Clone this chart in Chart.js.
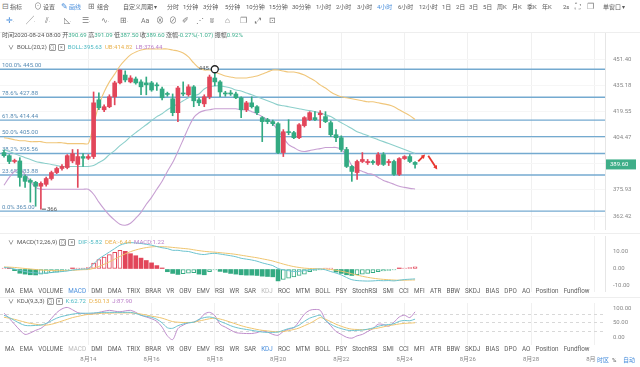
<!DOCTYPE html>
<html>
<head>
<meta charset="utf-8">
<script src="https://cdn.jsdelivr.net/npm/chart.js@4.4.1/dist/chart.umd.min.js"></script>
<style>
body{margin:0;width:640px;height:367px;overflow:hidden;background:#fff;position:relative;
  font-family:Roboto,"Noto Sans CJK SC",sans-serif;color:#5a5a5a}
canvas{position:absolute;left:0}
.a{position:absolute;white-space:nowrap;font-size:6px;line-height:8px}
.ic{font-size:8px;color:#777}
.bl{color:#4a8fdc}
.g{color:#3fb08f}
.teal{color:#4fbac4}.yel{color:#e9b24f}.pur{color:#bb7fc9}
.ib{display:inline-block;width:5px;height:5px;border:1px solid #9a9a9a;border-radius:1px;font-size:5px;line-height:5px;text-align:center;vertical-align:middle;margin-left:2px;color:#777}
.menu{position:absolute;left:5px;display:flex;gap:5.2px;font-size:6.3px;line-height:8px;color:#5e5e5e;white-space:nowrap}
.hl{position:absolute;left:0;width:640px;height:1px;background:#eeeeee}
</style>
</head>
<body>
<canvas id="cMain" width="640" height="197" style="top:33px"></canvas>
<canvas id="cMacd" width="640" height="56" style="top:236px"></canvas>
<canvas id="cKdj" width="640" height="64" style="top:303px"></canvas>

<div class="hl" style="top:32px"></div>
<div class="hl" style="top:233px"></div>
<div class="hl" style="top:297px"></div>

<!-- toolbar row 1 -->
<div class="a ic" style="top:3px;left:2px">⊟</div><div class="a" style="top:3px;left:10px">指标</div>
<div class="a ic" style="top:3px;left:34px">⊙</div><div class="a" style="top:3px;left:43px">设置</div>
<div class="a ic bl" style="top:3px;left:61px">✎</div><div class="a bl" style="top:3px;left:69px">画线</div>
<div class="a ic" style="top:3px;left:88px">⊞</div><div class="a" style="top:3px;left:97px">组合</div>
<div class="a" style="top:3px;left:123px">自定义周期 ▾</div>
<div class="a" style="top:3px;left:167px">分时</div>
<div class="a" style="top:3px;left:183px">1分钟</div>
<div class="a" style="top:3px;left:203px">3分钟</div>
<div class="a" style="top:3px;left:225px">5分钟</div>
<div class="a" style="top:3px;left:246px">10分钟</div>
<div class="a" style="top:3px;left:269px">15分钟</div>
<div class="a" style="top:3px;left:292px">30分钟</div>
<div class="a" style="top:3px;left:316px">1小时</div>
<div class="a" style="top:3px;left:336px">2小时</div>
<div class="a" style="top:3px;left:357px">3小时</div>
<div class="a bl" style="top:3px;left:377px">4小时</div>
<div class="a" style="top:3px;left:398px">6小时</div>
<div class="a" style="top:3px;left:419px">12小时</div>
<div class="a" style="top:3px;left:442px">1日</div>
<div class="a" style="top:3px;left:456px">2日</div>
<div class="a" style="top:3px;left:469px">3日</div>
<div class="a" style="top:3px;left:483px">5日</div>
<div class="a" style="top:3px;left:497px">周K</div>
<div class="a" style="top:3px;left:512px">月K</div>
<div class="a" style="top:3px;left:527px">季K</div>
<div class="a" style="top:3px;left:542px">年K</div>
<div class="a" style="top:3px;left:563px">2s</div>
<div class="a ic" style="top:3px;left:575px">⛶</div>
<div class="a ic" style="top:3px;left:587px">❐</div>
<div class="a" style="top:3px;left:603px">单窗口 ▾</div>

<!-- toolbar row 2 -->
<div class="a ic bl" style="top:17px;left:6px">✛<span style="font-size:5px;color:#999">·</span></div>
<div class="a ic" style="top:17px;left:26px">╱<span style="font-size:5px">·</span></div>
<div class="a ic" style="top:17px;left:45px">⫽<span style="font-size:5px">·</span></div>
<div class="a ic" style="top:17px;left:64px">◺<span style="font-size:5px">·</span></div>
<div class="a ic" style="top:17px;left:82px">☰<span style="font-size:5px">·</span></div>
<div class="a ic" style="top:17px;left:101px">∿<span style="font-size:5px">·</span></div>
<div class="a ic" style="top:17px;left:120px">⊞<span style="font-size:5px">·</span></div>
<div class="a ic" style="top:17px;left:141px;font-size:7px">Aa</div>
<div class="a ic" style="top:17px;left:156px">⊗</div>
<div class="a ic" style="top:17px;left:169px">⊘</div>
<div class="a ic" style="top:17px;left:182px">✐</div>
<div class="a ic" style="top:17px;left:196px">⋰</div>
<div class="a ic" style="top:17px;left:210px">ʬ</div>
<div class="a ic" style="top:17px;left:225px">⌂</div>
<div class="a ic" style="top:17px;left:240px">❐</div>
<div class="a ic" style="top:17px;left:255px">⤢</div>
<div class="a ic" style="top:17px;left:269px">⊡</div>

<!-- info rows -->
<div class="a" style="top:31px;left:2px;color:#555">时间2020-08-24 08:00 开<span class="g">390.69</span> 高<span class="g">391.09</span> 低<span class="g">387.50</span> 收<span class="g">389.60</span> 涨幅<span class="g">-0.27%(-1.07)</span> 振幅<span class="g">0.92%</span></div>
<div class="a" style="top:43px;left:8px;color:#555">∨&nbsp; BOLL(20,2)<span class="ib">⊙</span><span class="ib">×</span>&nbsp; <span class="teal">BOLL:395.63</span>&nbsp; <span class="yel">UB:414.82</span>&nbsp; <span class="pur">LB:376.44</span></div>

<div class="a" style="top:238px;left:8px;color:#555">∨&nbsp; MACD(12,26,9)<span class="ib">⊙</span><span class="ib">×</span>&nbsp; <span class="teal">DIF:-5.82</span>&nbsp; <span class="yel">DEA:-6.44</span>&nbsp; <span class="pur">MACD:1.22</span></div>

<div class="menu" style="top:287px">
<span>MA</span><span>EMA</span><span>VOLUME</span><span class="bl">MACD</span><span>DMI</span><span>DMA</span><span>TRIX</span><span>BRAR</span><span>VR</span><span>OBV</span><span>EMV</span><span>RSI</span><span>WR</span><span>SAR</span><span style="color:#bbb">KDJ</span><span>ROC</span><span>MTM</span><span>BOLL</span><span>PSY</span><span>StochRSI</span><span>SMI</span><span>CCI</span><span>MFI</span><span>ATR</span><span>BBW</span><span>SKDJ</span><span>BIAS</span><span>DPO</span><span>AO</span><span>Position</span><span>Fundflow</span>
</div>

<div class="a" style="top:297px;left:8px;color:#555">∨&nbsp; KDJ(9,3,3)<span class="ib">⊙</span><span class="ib">×</span>&nbsp; <span class="teal">K:62.72</span>&nbsp; <span class="yel">D:50.13</span>&nbsp; <span class="pur">J:87.90</span></div>

<div class="menu" style="top:345px">
<span>MA</span><span>EMA</span><span>VOLUME</span><span style="color:#bbb">MACD</span><span>DMI</span><span>DMA</span><span>TRIX</span><span>BRAR</span><span>VR</span><span>OBV</span><span>EMV</span><span>RSI</span><span>WR</span><span>SAR</span><span class="bl">KDJ</span><span>ROC</span><span>MTM</span><span>BOLL</span><span>PSY</span><span>StochRSI</span><span>SMI</span><span>CCI</span><span>MFI</span><span>ATR</span><span>BBW</span><span>SKDJ</span><span>BIAS</span><span>DPO</span><span>AO</span><span>Position</span><span>Fundflow</span>
</div>

<div class="a bl" style="top:356px;left:596px;background:#fff;padding-left:1px">时区</div>
<div class="a" style="top:356px;left:612px">%</div>
<div class="a bl" style="top:356px;left:623px">自动</div>

<script>
// ETH 4h candles, 2020-08-11 08:00 .. 2020-08-24 08:00
const open  = [396.1,394.4,391.2,391.5,383.1,381.0,380.0,377.9,378.9,382.0,385.2,387.4,387.9,391.5,389.6,393.9,393.0,393.9,426.4,420.5,
               422.3,428.2,436.6,441.4,437.2,439.0,437.2,436.6,436.6,435.4,432.9,430.0,427.0,418.8,430.5,429.4,434.2,426.4,424.0,428.2,
               439.6,437.2,430.5,430.5,429.9,427.6,420.5,424.6,422.3,415.9,414.7,413.6,412.4,396.1,407.8,407.3,404.4,411.3,414.7,415.9,
               417.6,416.5,413.0,406.1,404.4,397.8,388.5,385.2,391.2,390.6,391.2,389.6,395.0,390.6,391.2,384.2,392.8,393.9,390.69];
const high  = [397.5,395.0,392.5,393.3,384.0,381.8,380.5,380.2,382.8,386.0,388.2,389.5,395.0,397.8,397.8,395.5,395.0,431.1,430.5,423.4,
               429.4,437.6,444.6,444.0,441.0,440.2,438.4,440.2,437.5,436.6,434.0,431.0,429.9,434.5,437.2,435.5,435.0,427.6,429.4,441.4,
               445.0,438.0,431.5,432.0,431.0,428.2,425.5,428.2,423.0,416.5,415.5,414.5,413.0,409.0,414.7,408.0,412.4,416.5,419.4,419.4,
               420.0,419.4,414.0,409.0,405.5,399.0,389.0,392.0,396.1,392.3,392.0,396.1,396.1,392.3,392.0,393.3,394.4,395.0,391.09];
const low   = [393.5,390.0,390.4,377.9,377.3,369.6,367.5,366.0,378.0,381.2,384.6,386.5,387.2,390.5,377.3,388.5,392.3,392.8,420.5,419.4,
               421.7,423.4,436.0,437.2,436.6,435.8,429.4,429.4,431.5,432.0,426.4,428.5,417.0,413.6,428.8,428.5,422.3,422.9,422.3,427.0,
               434.8,428.2,428.5,429.0,427.0,415.9,419.4,421.5,417.6,402.2,412.4,411.3,395.5,393.9,406.1,403.8,403.8,410.5,414.2,414.2,
               410.1,413.0,405.0,402.2,396.7,387.9,380.5,381.5,390.6,389.6,389.6,389.0,389.0,389.0,383.6,383.6,392.3,390.6,387.50];
const close = [394.4,391.2,391.5,382.6,380.5,380.0,377.9,379.4,382.0,385.2,387.4,388.5,394.4,395.5,393.9,393.0,393.9,424.6,421.7,422.3,
               428.2,436.6,444.5,438.4,439.6,436.6,434.2,435.4,432.3,434.8,427.6,429.6,418.8,433.5,429.9,434.2,425.8,424.6,428.2,440.2,
               437.2,431.1,429.9,429.9,427.6,420.5,424.6,422.3,418.8,413.6,413.6,412.4,396.1,407.8,407.3,404.4,411.8,415.9,418.8,414.7,
               418.5,413.6,406.1,404.4,397.8,388.5,385.8,391.2,392.3,391.2,390.6,395.0,389.6,391.2,384.2,392.8,393.9,391.2,389.60];

// BOLL(20,2)
const bollUp  = [404.4,403.9,403.3,402.7,402.7,402.2,402.2,402.2,401.6,401.6,401.6,401.6,401.1,401.1,401.1,401.1,401.1,
                 411.8,423.4,431.1,437.2,442.0,447.0,450.8,454.0,455.8,457.1,457.8,457.8,457.8,457.8,457.8,
                 457.1,456.5,455.2,452.7,448.9,445.8,444.5,444.5,443.3,442.0,440.8,440.2,439.6,439.6,439.6,
                 440.2,440.8,442.0,443.3,444.5,444.5,443.9,443.3,443.3,442.6,441.4,439.6,437.8,435.4,433.5,
                 431.1,429.4,428.2,427.6,427.0,426.4,425.8,425.2,425.2,424.6,424.0,423.4,422.3,420.5,418.8,417.1,414.82];
const bollMid = [397.8,396.7,395.5,394.4,393.3,392.3,391.2,390.6,390.1,389.6,389.0,388.5,388.5,388.5,388.5,388.5,388.5,
                 389.0,390.6,392.3,395.0,397.2,400.0,402.2,405.0,407.3,409.6,411.8,414.2,416.5,418.2,420.5,
                 422.3,424.0,425.8,427.6,428.8,429.9,432.9,434.2,434.8,434.8,434.2,433.5,432.3,431.7,430.5,
                 429.4,428.2,427.0,425.8,424.6,423.4,422.9,422.3,421.7,421.1,420.5,420.0,419.4,418.8,417.6,
                 416.5,414.7,413.0,411.3,409.6,407.8,406.7,405.6,404.4,403.3,402.2,401.1,400.0,398.9,397.8,396.7,395.63];
const bollLow = [378.4,382.6,385.8,386.9,384.2,380.5,377.3,376.3,376.3,376.3,376.3,376.3,376.3,376.3,376.3,376.3,376.3,
                 373.7,369.6,366.0,362.9,360.4,358.4,357.9,358.9,361.4,364.4,368.5,372.1,376.3,380.5,385.8,
                 390.6,396.7,403.3,410.1,415.9,418.8,420.0,420.5,421.1,421.1,421.1,421.1,421.1,420.5,420.5,
                 419.4,418.2,416.5,414.7,412.4,408.4,404.4,400.5,398.9,397.2,396.7,397.2,397.8,398.3,398.9,
                 398.9,398.9,397.8,394.4,389.0,386.9,385.8,384.7,384.2,382.6,381.0,380.0,378.9,377.9,377.3,376.8,376.44];

// Fibonacci retracement drawn on the chart
const fibPct = ['100.0%','78.6%','61.8%','50.0%','38.2%','23.6%','0.0%'];
const fibVal = [445.00,427.88,414.44,405.00,395.56,383.88,365.00];
const priceTicks = [362.42,375.93,389.94,404.47,419.55,435.18,451.40];

// hand drawn arrows: [x0, price0, x1, price1] in candle index / price
const arrows = [[78.6,391.2,79.9,395.0],[80.5,394.4,82.2,386.9]];

// MACD(12,26,9)
const dif = [1.0,0.6,0.0,-0.8,-1.5,-2.0,-2.3,-2.5,-2.4,-2.1,-1.8,-1.5,-1.2,-0.6,-0.3,0.0,0.2,3.0,6.0,8.0,
             10.0,12.0,14.0,15.0,15.5,15.3,15.0,14.5,14.0,13.2,12.5,12.0,11.0,11.0,10.5,10.3,9.5,8.8,8.5,9.0,
             9.2,8.8,8.3,7.8,7.2,6.3,5.8,5.3,4.6,3.6,2.8,2.0,0.3,-0.5,-1.0,-1.5,-1.4,-1.0,-0.5,-0.2,
             0.0,-0.5,-1.5,-2.4,-3.5,-5.0,-6.3,-6.8,-7.0,-7.1,-7.0,-6.8,-6.9,-6.8,-7.0,-6.6,-6.2,-6.0,-5.82];
const dea = [1.2,1.1,0.9,0.6,0.3,0.0,-0.3,-0.6,-0.8,-0.9,-1.0,-1.0,-0.9,-0.8,-0.6,-0.4,-0.3,0.4,1.5,2.8,
             4.2,5.8,7.4,8.9,10.2,11.2,12.0,12.6,13.0,13.2,13.1,13.0,12.7,12.4,12.1,11.8,11.3,10.8,10.4,10.1,
             9.9,9.6,9.3,9.0,8.6,8.1,7.6,7.1,6.6,6.0,5.4,4.7,3.8,2.9,2.1,1.4,0.9,0.5,0.3,0.2,
             0.1,0.0,-0.3,-0.7,-1.3,-2.0,-2.8,-3.6,-4.3,-4.9,-5.4,-5.8,-6.1,-6.3,-6.5,-6.6,-6.6,-6.5,-6.44];
const macdHist = [0.3,0.2,-1.0,-2.5,-3.0,-3.4,-3.5,-3.0,-2.6,-2.2,-1.8,-1.4,-0.6,0.3,0.5,0.6,0.9,3.5,5.5,7.0,
                  8.5,9.8,11.0,10.4,9.0,7.8,6.4,5.0,3.6,2.0,0.6,-1.6,-2.6,-3.2,-2.8,-2.5,-2.2,-3.0,-3.4,-1.5,
                  -0.6,-1.4,-2.0,-2.6,-3.0,-3.4,-3.6,-3.6,-3.8,-4.2,-4.4,-4.6,-7.0,-6.2,-5.4,-4.6,-3.8,-3.0,-1.6,-0.8,
                  -0.3,0.3,0.4,-1.8,-2.6,-3.4,-3.8,-3.4,-3.0,-2.6,-2.2,-1.6,-1.2,-0.9,-0.5,0.4,0.6,0.9,1.22];

// KDJ(9,3,3)
const kLine = [76,68,58,48,41,40,41,42,48,57,66,72,76,80,82,83,83,84,85,86,
               86,86,86,86,86,82,76,72,69,62,50,33,31,40,46,50,52,62,68,70,
               66,55,48,40,34,30,27,24,21,18,17,17,18,24,30,34,42,55,66,72,
               76,58,45,36,30,25,23,24,25,28,32,38,42,44,47,55,58,57,62.72];
const dLine = [69,66,62,57,52,48,45,43,42,45,50,56,62,68,72,76,79,80,82,83,
               83,84,84,84,84,83,80,77,73,70,66,60,54,52,51,51,52,56,60,64,
               66,63,58,52,46,40,35,31,27,24,22,20,19,20,23,27,32,40,48,58,
               68,62,54,45,38,32,28,27,26,27,29,32,36,40,43,46,48,49,50.13];
const jLine = [83,65,45,25,10,15,24,31,45,65,85,98,103,95,85,82,80,82,86,90,
               93,90,88,91,93,86,76,70,64,55,35,5,-8,30,42,50,52,60,80,86,
               75,45,35,25,16,14,13,13,16,22,18,10,7,20,28,33,55,80,93,96,
               93,60,40,20,10,0,-3,5,10,20,30,45,44,38,52,70,76,68,87.9];

// x axis: candle index, date ticks every two days at 00:00
const dayTicks  = [16,28,40,52,64,76,88,100,112];
const dayLabels = ['8月14','8月16','8月18','8月20','8月22','8月24','8月26','8月28','8月30'];

const UP = '#e2465a', DOWN = '#33aa82';
Chart.defaults.font.family = 'Roboto, "Noto Sans CJK SC", sans-serif';
Chart.defaults.font.size = 6;
Chart.defaults.color = '#888';

const X_MIN = -0.76, X_MAX = 114.04;
const pts = arr => arr.map((v, i) => ({x: i, y: v}));
const candleColor = open.map((o, i) => close[i] >= o ? UP : DOWN);

function xScale(showLabels) {
  return {
    type: 'linear', min: X_MIN, max: X_MAX, offset: false,
    grid: {color: '#f0f0f0', drawTicks: false, offset: false},
    border: {display: false},
    ticks: {display: showLabels, padding: 11, color: '#888', font: {size: 6}, maxRotation: 0, autoSkip: false,
            callback: v => dayLabels[dayTicks.indexOf(v)] || ''},
    afterBuildTicks: s => { s.ticks = dayTicks.map(v => ({value: v})); },
    afterFit: s => { s.height = showLabels ? 22 : 0; s.paddingLeft = 0; s.paddingRight = 0; }
  };
}
const fitY = s => { s.width = 35; s.paddingTop = 0; s.paddingBottom = 0; };
const baseOpts = {responsive: false, animation: false, events: [], layout: {padding: 0},
                  plugins: {legend: {display: false}, tooltip: {enabled: false}}};

const mainMarks = {
  id: 'mainMarks',
  beforeDatasetsDraw(chart) {
    const {ctx, chartArea: a, scales: {y}} = chart;
    ctx.save();
    ctx.strokeStyle = '#74aad0'; ctx.lineWidth = 1.4;
    ctx.fillStyle = '#5a8db5'; ctx.font = '6px Roboto';
    fibVal.forEach((v, k) => {
      const py = y.getPixelForValue(v);
      ctx.beginPath(); ctx.moveTo(a.left, py); ctx.lineTo(a.right, py); ctx.stroke();
      ctx.fillText(fibPct[k] + ' ' + v.toFixed(2), a.left + 2, py - 2.5);
    });
    ctx.restore();
  },
  afterDraw(chart) {
    const {ctx, chartArea: a, scales: {x, y}} = chart;
    ctx.save();
    // highest high
    const hv = Math.max(...high), hi = high.indexOf(hv);
    const hx = x.getPixelForValue(hi), hy = y.getPixelForValue(hv);
    ctx.fillStyle = '#555'; ctx.font = '6px Roboto'; ctx.textAlign = 'right'; ctx.textBaseline = 'middle';
    ctx.fillText(Math.round(hv), hx - 6, hy - 1);
    ctx.beginPath(); ctx.arc(hx, hy, 3.5, 0, Math.PI * 2);
    ctx.fillStyle = '#fff'; ctx.fill(); ctx.lineWidth = 1.3; ctx.strokeStyle = '#222'; ctx.stroke();
    // lowest low
    const lv = Math.min(...low), li = low.indexOf(lv);
    const lx = x.getPixelForValue(li), ly = y.getPixelForValue(lv);
    ctx.strokeStyle = '#555'; ctx.lineWidth = 1;
    ctx.beginPath(); ctx.moveTo(lx + 1, ly); ctx.lineTo(lx + 5, ly); ctx.stroke();
    ctx.fillStyle = '#555'; ctx.textAlign = 'left';
    ctx.fillText(Math.round(lv), lx + 6, ly);
    // red arrows
    ctx.strokeStyle = '#e8352e'; ctx.fillStyle = '#e8352e'; ctx.lineWidth = 1.8;
    arrows.forEach(([i0, p0, i1, p1]) => {
      const x0 = x.getPixelForValue(i0), y0 = y.getPixelForValue(p0);
      const x1 = x.getPixelForValue(i1), y1 = y.getPixelForValue(p1);
      const ang = Math.atan2(y1 - y0, x1 - x0);
      ctx.beginPath(); ctx.moveTo(x0, y0); ctx.lineTo(x1 - 2 * Math.cos(ang), y1 - 2 * Math.sin(ang)); ctx.stroke();
      ctx.beginPath(); ctx.moveTo(x1, y1);
      ctx.lineTo(x1 - 4.5 * Math.cos(ang - 0.5), y1 - 4.5 * Math.sin(ang - 0.5));
      ctx.lineTo(x1 - 4.5 * Math.cos(ang + 0.5), y1 - 4.5 * Math.sin(ang + 0.5));
      ctx.closePath(); ctx.fill();
    });
    // last price tag
    const last = close[close.length - 1], py = y.getPixelForValue(last);
    ctx.fillStyle = '#3fae88';
    ctx.fillRect(a.right + 1, py - 5, 30, 10);
    ctx.fillStyle = '#fff'; ctx.textAlign = 'left'; ctx.textBaseline = 'middle';
    ctx.fillText(last.toFixed(2), a.right + 5, py);
    ctx.restore();
  }
};

new Chart(document.getElementById('cMain'), {
  type: 'bar',
  data: {datasets: [
    {type: 'line', data: pts(bollUp),  borderColor: '#f0c67a', borderWidth: 1.1, pointRadius: 0, tension: 0.3, order: 3},
    {type: 'line', data: pts(bollMid), borderColor: '#8ccfcb', borderWidth: 1.1, pointRadius: 0, tension: 0.3, order: 3},
    {type: 'line', data: pts(bollLow), borderColor: '#c79fd2', borderWidth: 1.1, pointRadius: 0, tension: 0.3, order: 3},
    {data: high.map((h, i) => ({x: i, y: [low[i], h]})), backgroundColor: candleColor,
     barThickness: 1, grouped: false, order: 2},
    {data: open.map((o, i) => ({x: i, y: [Math.min(o, close[i]), Math.max(o, close[i])]})), backgroundColor: candleColor,
     barThickness: 4, minBarLength: 1, grouped: false, order: 1}
  ]},
  options: Object.assign({}, baseOpts, {
    scales: {
      x: xScale(false),
      y: {type: 'logarithmic', position: 'right', min: 355.5, max: 468.1, bounds: 'data',
          grid: {color: '#f6f6f6', drawTicks: false}, border: {display: true, color: '#e6e6e6'},
          ticks: {padding: 8, color: '#888', font: {size: 6}, autoSkip: false, callback: v => Number(v).toFixed(2)},
          afterBuildTicks: s => { s.ticks = priceTicks.map(v => ({value: v})); },
          afterFit: fitY}
    }
  }),
  plugins: [mainMarks]
});

const hollow = macdHist.map((v, i) => {
  const grow = Math.abs(v) >= Math.abs(i ? macdHist[i - 1] : 0);
  return v >= 0 ? grow : !grow;
});
const histColor = macdHist.map(v => v >= 0 ? UP : DOWN);

new Chart(document.getElementById('cMacd'), {
  type: 'bar',
  data: {datasets: [
    {type: 'line', data: pts(dif), borderColor: '#6cc3cf', borderWidth: 1, pointRadius: 0, tension: 0.3, order: 0},
    {type: 'line', data: pts(dea), borderColor: '#efc56f', borderWidth: 1, pointRadius: 0, tension: 0.3, order: 0},
    {data: pts(macdHist), barThickness: 4, minBarLength: 1, order: 1,
     backgroundColor: histColor.map((c, i) => hollow[i] ? '#fff' : c),
     borderColor: histColor, borderWidth: hollow.map(h => h ? 1 : 0), borderSkipped: false}
  ]},
  options: Object.assign({}, baseOpts, {
    scales: {
      x: xScale(false),
      y: {type: 'linear', position: 'right', min: -13.53, max: 19.41,
          grid: {color: 'rgba(0,0,0,0)', drawTicks: false}, border: {display: true, color: '#e6e6e6'},
          ticks: {padding: 8, color: '#888', font: {size: 6}, callback: v => v.toFixed(2)},
          afterBuildTicks: s => { s.ticks = [-10, 0, 10].map(v => ({value: v})); },
          afterFit: fitY}
    }
  })
});

new Chart(document.getElementById('cKdj'), {
  type: 'line',
  data: {datasets: [
    {data: pts(kLine), borderColor: '#6cc3cf', borderWidth: 1, pointRadius: 0, tension: 0.3},
    {data: pts(dLine), borderColor: '#efc56f', borderWidth: 1, pointRadius: 0, tension: 0.3},
    {data: pts(jLine), borderColor: '#bf8dcc', borderWidth: 1, pointRadius: 0, tension: 0.3}
  ]},
  options: Object.assign({}, baseOpts, {
    scales: {
      x: xScale(true),
      y: {type: 'linear', position: 'right', min: -26.6, max: 118.3,
          grid: {drawTicks: false, color: c => [20, 50, 80].includes(c.tick.value) ? '#d8d8d8' : 'rgba(0,0,0,0)'},
          border: {display: false, dash: [3, 3]},
          ticks: {padding: 8, color: '#888', font: {size: 6}, callback: v => [0, 50, 100].includes(v) ? v.toFixed(2) : ''},
          afterBuildTicks: s => { s.ticks = [0, 20, 50, 80, 100].map(v => ({value: v})); },
          afterFit: fitY}
    }
  })
});
</script>
</body>
</html>
